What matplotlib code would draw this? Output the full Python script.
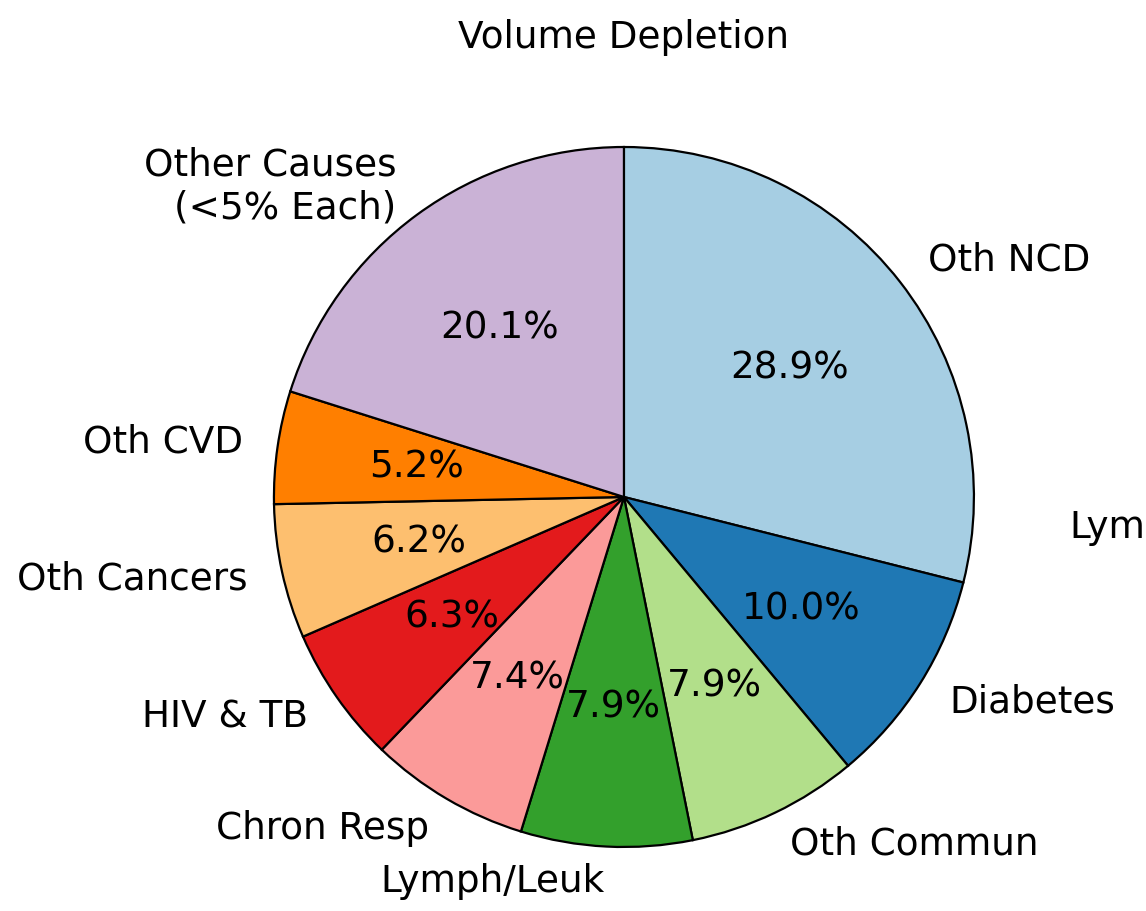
import matplotlib
matplotlib.use("Agg")
import matplotlib.pyplot as plt

# data
labels = ["Oth NCD", "Diabetes", "Oth Commun", "Lymph/Leuk", "Chron Resp",
          "HIV & TB", "Oth Cancers", "Oth CVD", "Other Causes\n(<5% Each)"]
values = [28.9, 10.0, 7.9, 7.9, 7.4, 6.3, 6.2, 5.2, 20.1]
colors = ["#a6cee3", "#1f78b4", "#b2df8a", "#33a02c", "#fb9a99",
          "#e31a1c", "#fdbf6f", "#ff7f00", "#cab2d6"]

plt.rcParams["font.size"] = 26.9

fig = plt.figure(figsize=(11.46, 9.11), dpi=100)
ax = fig.add_axes([0.1627, -0.0258, 0.7635, 0.9605])

ax.pie(values, labels=labels, colors=colors, autopct="%1.1f%%",
       startangle=90, counterclock=False,
       wedgeprops={"edgecolor": "black", "linewidth": 1.6})

# stray label that the reference shows cut off at the right edge
ax.text(1.274, -0.086, "Lymph/Leuk", ha="left", va="center")

fig.text(624 / 1146, 1 - 48 / 911, "Volume Depletion", ha="center", va="baseline")

fig.savefig("out.png", dpi=100)
